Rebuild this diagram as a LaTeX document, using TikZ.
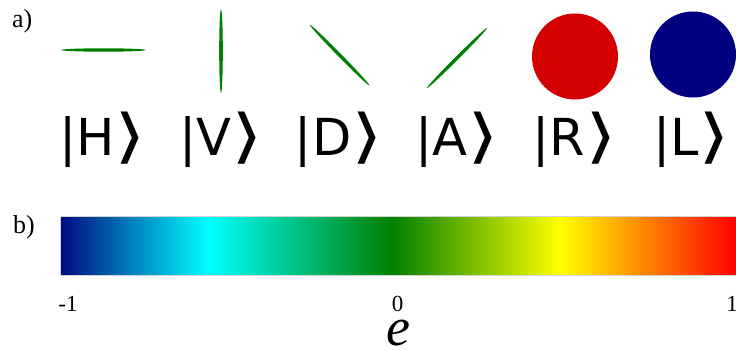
\documentclass[tikz,border=0pt]{standalone}
\usepackage{fontspec}
\usepackage{graphicx}
\setmainfont{Liberation Serif}
\newfontfamily\ketfont{DejaVu Sans}
\newcommand{\rketsym}{\raisebox{-1.5pt}{\scalebox{1.6}[1.15]{⟩}}}
\definecolor{dgreen}{RGB}{0,128,0}
\definecolor{rred}{RGB}{212,0,0}
\definecolor{lnavy}{RGB}{0,0,128}
\definecolor{bnavy}{RGB}{0,10,128}
\definecolor{bcyan}{RGB}{0,255,255}
\definecolor{bgreen}{RGB}{0,128,0}
\definecolor{byellow}{RGB}{255,255,0}
\definecolor{bred}{RGB}{255,0,0}
\pgfdeclarehorizontalshading{ebar}{100bp}{color(0bp)=(bnavy); color(25bp)=(bnavy); color(36bp)=(bcyan); color(49.5bp)=(bgreen); color(62bp)=(byellow); color(75bp)=(bred); color(100bp)=(bred)}
\tikzset{
  ket/.style={font=\ketfont\fontsize{51}{51}\selectfont, anchor=base, inner sep=0pt},
  lbl/.style={font=\fontsize{26}{26}\selectfont, anchor=base west, inner sep=0pt},
  tick/.style={font=\fontsize{23}{23}\selectfont, anchor=base, inner sep=0pt},
  pol/.style={fill=dgreen, draw=none},
}
\begin{document}
\begin{tikzpicture}[x=1pt,y=1pt]
\useasboundingbox (0,0) rectangle (736,349);
% part a
\node[lbl] (la) at (12,321) {a)};
\fill[pol] (103.5,299) ellipse [x radius=42.5, y radius=1.7];
\fill[pol] (221,298) ellipse [x radius=1.8, y radius=42];
\fill[pol, rotate around={-45.5:(339.5,294)}] (339.5,294) ellipse [x radius=42.5, y radius=1.7];
\fill[pol, rotate around={45:(457,291)}] (457,291) ellipse [x radius=42.5, y radius=1.7];
\fill[rred] (575,292.5) circle [radius=43];
\fill[lnavy] (693,294.5) circle [radius=43];
\node[ket] (kH) at (103,194) {|H\rketsym};
\node[ket] (kV) at (221,194) {|V\rketsym};
\node[ket] (kD) at (339,194) {|D\rketsym};
\node[ket] (kA) at (457,194) {|A\rketsym};
\node[ket] (kR) at (575,194) {|R\rketsym};
\node[ket] (kL) at (692,194) {|L\rketsym};
% part b
\node[lbl] (lb) at (13,116) {b)};
\shade[shading=ebar, draw=gray!35, line width=0.5pt] (60,74) rectangle (736,133);
\node[tick] (tm) at (68,38) {-1};
\node[tick] (t0) at (397.5,38) {0};
\node[tick, anchor=base east] (t1) at (738,38) {1};
\node[font=\itshape\fontsize{54}{54}\selectfont, anchor=base, inner sep=0pt] (e) at (398,4) {e};
\end{tikzpicture}
\end{document}
